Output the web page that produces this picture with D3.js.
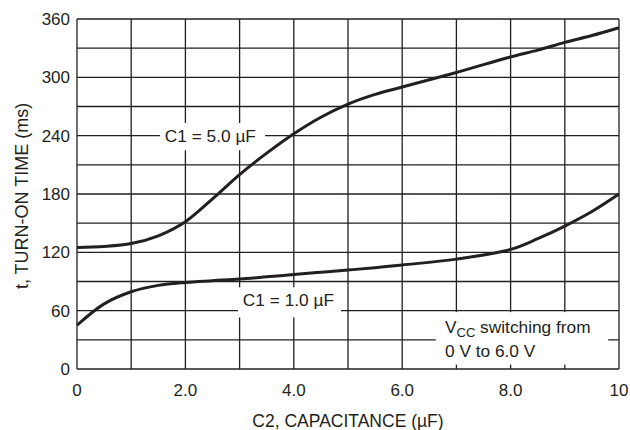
<!DOCTYPE html>
<html>
<head>
<meta charset="utf-8">
<script src="https://cdn.jsdelivr.net/npm/d3@7"></script>
<style>
  body { margin: 0; background: #fff; }
  text { font-family: "Liberation Sans", Arial, sans-serif; fill: #231f20; }
</style>
</head>
<body>
<div id="chart"></div>
<script>
// Turn-on time vs C2 capacitance, two C1 values

const C2_VALUES = [0, 0.5, 1.0, 1.5, 2.0, 2.5, 3.0, 3.5, 4.0, 4.5, 5.0, 5.5, 6.0, 7.0, 8.0, 8.5, 9.0, 9.5, 10];
const T_C1_5UF  = [125, 126, 129, 137, 151.5, 175, 200, 222, 242, 259, 272.5, 282.5, 290, 305, 321, 328, 336, 343, 351];
const T_C1_1UF  = [45, 67, 79.5, 86, 89, 90.8, 92.5, 94.8, 97.2, 99.5, 101.8, 104.2, 107, 113, 123, 134, 147, 162, 180];

const X_TICKS = [0, 2, 4, 6, 8, 10];
const X_TICK_LABELS = ["0", "2.0", "4.0", "6.0", "8.0", "10"];
const Y_TICKS = [0, 60, 120, 180, 240, 300, 360];

const W = 630, H = 430;
const M = {left: 77, right: 11, top: 19, bottom: 61};

const svg = d3.select("#chart").append("svg")
    .attr("width", W).attr("height", H);

const x = d3.scaleLinear().domain([0, 10]).range([M.left, W - M.right]);
const y = d3.scaleLinear().domain([0, 360]).range([H - M.bottom, M.top]);

const INK = "#231f20";

// grid: every 1 µF and every 30 ms
const grid = svg.append("g").attr("stroke", INK).attr("stroke-width", 1.3);
grid.selectAll("line.v").data(d3.range(0, 11)).join("line")
    .attr("x1", d => x(d)).attr("x2", d => x(d))
    .attr("y1", y(0)).attr("y2", y(360));
grid.selectAll("line.h").data(d3.range(0, 390, 30)).join("line")
    .attr("x1", x(0)).attr("x2", x(10))
    .attr("y1", d => y(d)).attr("y2", d => y(d));

// white boxes behind the labels hide the grid
const boxes = [
  {x0: 1.53, x1: 3.47, y0: 225, y1: 253},
  {x0: 2.97, x1: 4.87, y0: 53, y1: 84},
  {x0: 6.62, x1: 9.80, y0: 4.5, y1: 58.5}
];
svg.append("g").selectAll("rect").data(boxes).join("rect")
    .attr("x", d => x(d.x0)).attr("width", d => x(d.x1) - x(d.x0))
    .attr("y", d => y(d.y1)).attr("height", d => y(d.y0) - y(d.y1))
    .attr("fill", "#fff");

// curves
const line = d3.line().curve(d3.curveCatmullRom.alpha(0.5)).x(d => x(d[0])).y(d => y(d[1]));
[T_C1_5UF, T_C1_1UF].forEach(series => {
  svg.append("path")
      .datum(C2_VALUES.map((c, i) => [c, series[i]]))
      .attr("fill", "none").attr("stroke", INK).attr("stroke-width", 3)
      .attr("stroke-linejoin", "round")
      .attr("d", line);
});

// tick labels
svg.append("g").selectAll("text").data(X_TICKS).join("text")
    .attr("x", d => x(d)).attr("y", 396).attr("text-anchor", "middle")
    .attr("font-size", 17).text((d, i) => X_TICK_LABELS[i]);
svg.append("g").selectAll("text").data(Y_TICKS).join("text")
    .attr("x", 70).attr("y", d => y(d) + 6).attr("text-anchor", "end")
    .attr("font-size", 17).text(d => d);

// axis titles
svg.append("text").attr("x", x(5)).attr("y", 427).attr("text-anchor", "middle")
    .attr("font-size", 17.5).text("C2, CAPACITANCE (µF)");
svg.append("text").attr("transform", `translate(28,${y(178)}) rotate(-90)`)
    .attr("text-anchor", "middle").attr("font-size", 18)
    .text("t, TURN-ON TIME (ms)");

// curve labels
svg.append("text").attr("x", x(1.62)).attr("y", 142).attr("font-size", 17.3)
    .text("C1 = 5.0 µF");
svg.append("text").attr("x", x(3.06)).attr("y", 306).attr("font-size", 17.3)
    .text("C1 = 1.0 µF");

const note = svg.append("text").attr("x", 445).attr("font-size", 17.3);
note.append("tspan").attr("y", 333).text("V");
note.append("tspan").attr("font-size", 13).attr("dy", 4).text("CC");
note.append("tspan").attr("dy", -4).text(" switching from");
note.append("tspan").attr("x", 445).attr("y", 357).text("0 V to 6.0 V");
</script>
</body>
</html>
